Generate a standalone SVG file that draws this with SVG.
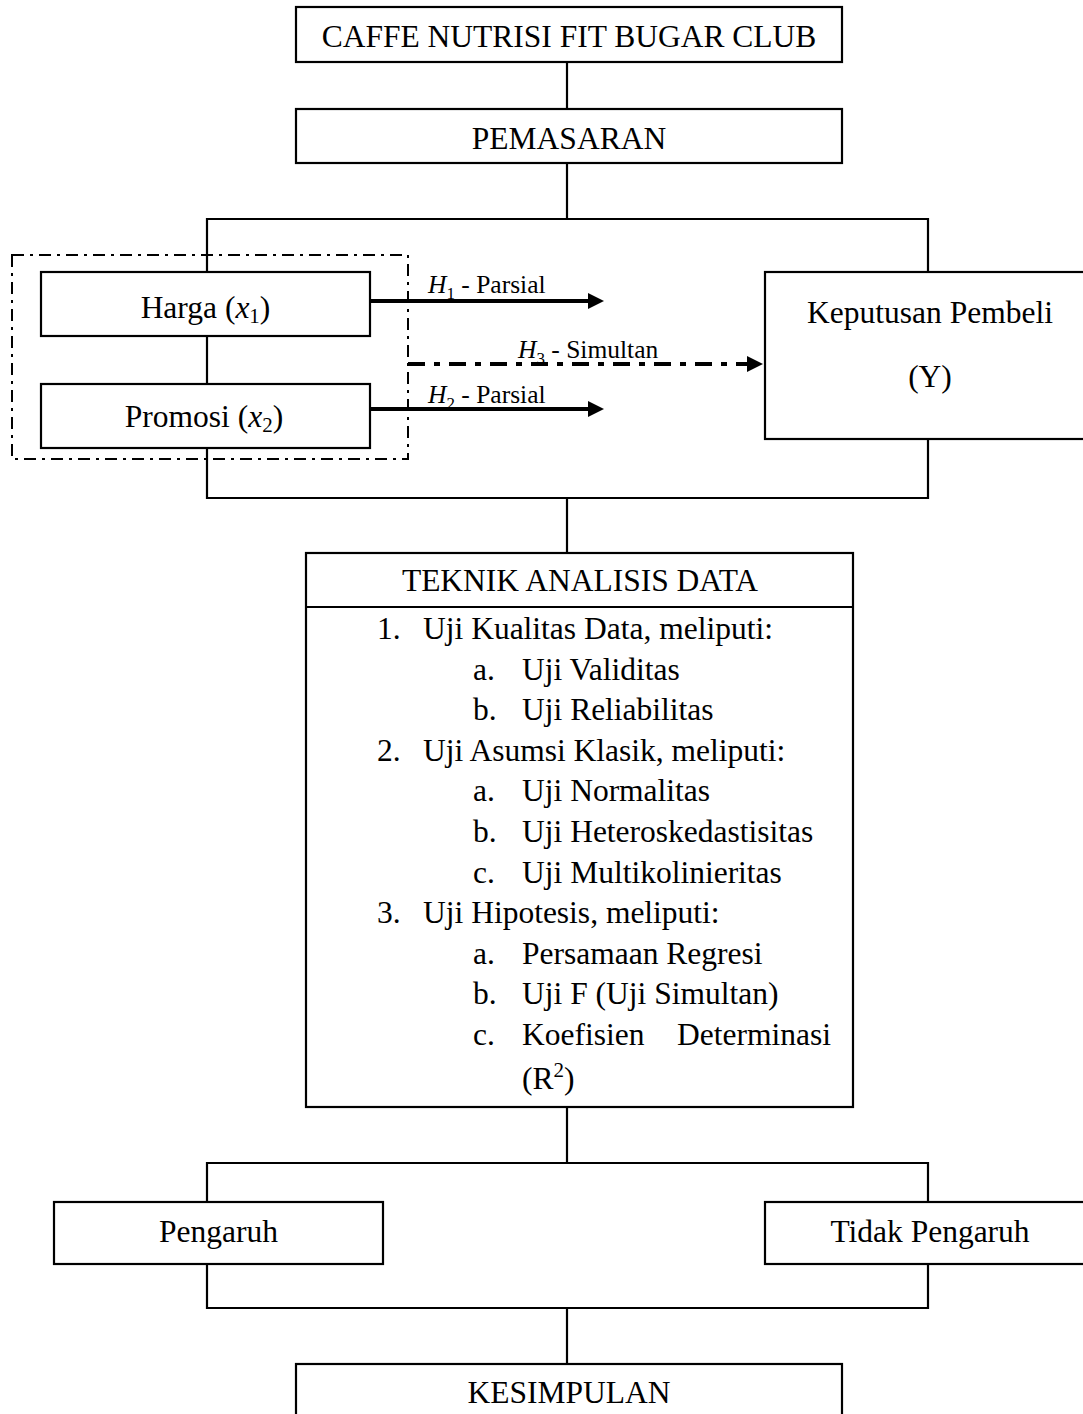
<svg xmlns="http://www.w3.org/2000/svg" width="1083" height="1414" viewBox="0 0 1083 1414">
<style>
  .box { fill: #fff; stroke: #000; stroke-width: 2.2; }
  .ln { fill: none; stroke: #000; stroke-width: 2.2; }
  .arrow { fill: none; stroke: #000; stroke-width: 4; }
  .dd { fill: none; stroke: #000; stroke-width: 2; stroke-dasharray: 12 6 3 6; }
  .dd3 { fill: none; stroke: #000; stroke-width: 4; stroke-dasharray: 17 9 6 9; }
  text { font-family: "Liberation Serif", "Times New Roman", serif; fill: #000; }
  .t { font-size: 31.5px; }
  .c { text-anchor: middle; }
  .lbl { font-size: 25.5px; }
  .it { font-style: italic; }
</style>
<defs>
  <marker id="ah" viewBox="0 0 16 16" refX="0" refY="8" markerWidth="16" markerHeight="16" markerUnits="userSpaceOnUse" orient="auto">
    <path d="M0,0 L16,8 L0,16 Z" fill="#000"/>
  </marker>
</defs>
<rect width="1083" height="1414" fill="#fff"/>

<g id="connectors">
  <line class="ln" x1="567" y1="62" x2="567" y2="109"/>
  <line class="ln" x1="567" y1="163" x2="567" y2="219"/>
  <polyline class="ln" points="207,272 207,219 928,219 928,272"/>
  <line class="ln" x1="207" y1="336" x2="207" y2="384"/>
  <polyline class="ln" points="207,448 207,498 928,498 928,439"/>
  <line class="ln" x1="567" y1="498" x2="567" y2="553"/>
  <line class="ln" x1="567" y1="1107" x2="567" y2="1163"/>
  <polyline class="ln" points="207,1202 207,1163 928,1163 928,1202"/>
  <polyline class="ln" points="207,1264 207,1308 928,1308 928,1264"/>
  <line class="ln" x1="567" y1="1308" x2="567" y2="1364"/>
  <line class="arrow" x1="370" y1="301" x2="588" y2="301" marker-end="url(#ah)"/>
  <line class="arrow" x1="370" y1="409" x2="588" y2="409" marker-end="url(#ah)"/>
  <line class="dd3" x1="408" y1="364" x2="747" y2="364" marker-end="url(#ah)"/>
  <rect class="dd" x="12" y="255" width="396" height="204"/>
</g>

<g id="labels">
  <text class="lbl" x="428" y="293"><tspan class="it">H</tspan><tspan font-size="17" dy="6">1</tspan><tspan dy="-6"> - Parsial</tspan></text>
  <text class="lbl" x="518" y="358"><tspan class="it">H</tspan><tspan font-size="17" dy="6">3</tspan><tspan dy="-6"> - Simultan</tspan></text>
  <text class="lbl" x="428" y="403"><tspan class="it">H</tspan><tspan font-size="17" dy="6">2</tspan><tspan dy="-6"> - Parsial</tspan></text>
</g>

<g id="node-caffe">
  <rect class="box" x="296" y="7" width="546" height="55"/>
  <text class="t c" x="569" y="47">CAFFE NUTRISI FIT BUGAR CLUB</text>
</g>

<g id="node-pemasaran">
  <rect class="box" x="296" y="109" width="546" height="54"/>
  <text class="t c" x="569" y="149">PEMASARAN</text>
</g>

<g id="node-harga">
  <rect class="box" x="41" y="272" width="329" height="64"/>
  <text class="t c" x="205.5" y="318">Harga (<tspan class="it">x</tspan><tspan font-size="21" dy="5">1</tspan><tspan dy="-5">)</tspan></text>
</g>

<g id="node-promosi">
  <rect class="box" x="41" y="384" width="329" height="64"/>
  <text class="t c" x="204" y="427">Promosi (<tspan class="it">x</tspan><tspan font-size="21" dy="5">2</tspan><tspan dy="-5">)</tspan></text>
</g>

<g id="node-keputusan">
  <rect class="box" x="765" y="272" width="330" height="167"/>
  <text class="t c" x="930" y="323">Keputusan Pembeli</text>
  <text class="t c" x="930" y="387">(Y)</text>
</g>

<g id="node-teknik">
  <rect class="box" x="306" y="553" width="547" height="554"/>
  <line class="ln" x1="306" y1="607" x2="853" y2="607"/>
  <text class="t c" x="580" y="591">TEKNIK ANALISIS DATA</text>
  <g class="t">
    <text class="t" x="377" y="639">1.</text><text class="t" x="423" y="639">Uji Kualitas Data, meliputi:</text>
    <text class="t" x="473" y="679.6">a.</text><text class="t" x="522" y="679.6">Uji Validitas</text>
    <text class="t" x="473" y="720.2">b.</text><text class="t" x="522" y="720.2">Uji Reliabilitas</text>
    <text class="t" x="377" y="760.8">2.</text><text class="t" x="423" y="760.8">Uji Asumsi Klasik, meliputi:</text>
    <text class="t" x="473" y="801.4">a.</text><text class="t" x="522" y="801.4">Uji Normalitas</text>
    <text class="t" x="473" y="842">b.</text><text class="t" x="522" y="842">Uji Heteroskedastisitas</text>
    <text class="t" x="473" y="882.6">c.</text><text class="t" x="522" y="882.6">Uji Multikolinieritas</text>
    <text class="t" x="377" y="923.2">3.</text><text class="t" x="423" y="923.2">Uji Hipotesis, meliputi:</text>
    <text class="t" x="473" y="963.8">a.</text><text class="t" x="522" y="963.8">Persamaan Regresi</text>
    <text class="t" x="473" y="1004.4">b.</text><text class="t" x="522" y="1004.4">Uji F (Uji Simultan)</text>
    <text class="t" x="473" y="1045">c.</text><text class="t" x="522" y="1045">Koefisien</text><text class="t" x="831" y="1045" text-anchor="end">Determinasi</text>
    <text class="t" x="522" y="1089">(R<tspan font-size="21" dy="-12">2</tspan><tspan dy="12">)</tspan></text>
  </g>
</g>

<g id="node-pengaruh">
  <rect class="box" x="54" y="1202" width="329" height="62"/>
  <text class="t c" x="218.5" y="1242">Pengaruh</text>
</g>

<g id="node-tidak">
  <rect class="box" x="765" y="1202" width="330" height="62"/>
  <text class="t c" x="930" y="1242">Tidak Pengaruh</text>
</g>

<g id="node-kesimpulan">
  <rect class="box" x="296" y="1364" width="546" height="60"/>
  <text class="t c" x="569" y="1403">KESIMPULAN</text>
</g>
</svg>
